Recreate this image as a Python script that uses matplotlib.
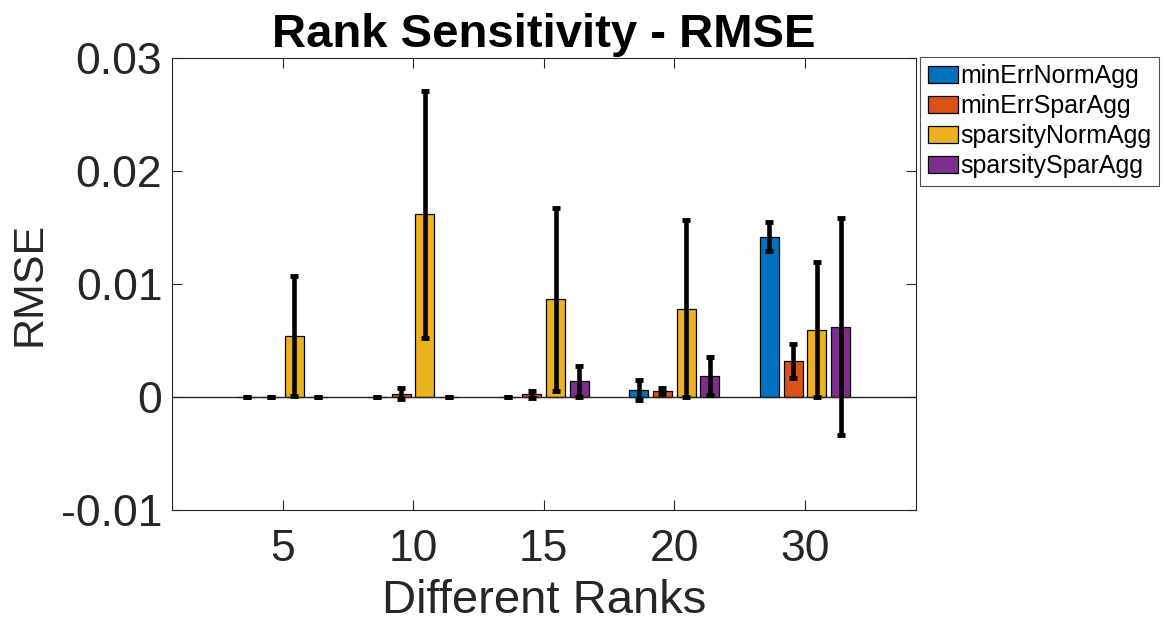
import numpy as np
import matplotlib
matplotlib.use("Agg")
import matplotlib.pyplot as plt

plt.rcParams['font.family'] = ['Liberation Sans', 'DejaVu Sans']

ranks = ["5", "10", "15", "20", "30"]
series = ["minErrNormAgg", "minErrSparAgg", "sparsityNormAgg", "sparsitySparAgg"]
colors = ["#0072BD", "#D95319", "#EDB120", "#7E2F8E"]

# mean RMSE per rank for each method
min_err_norm = [0.0, 0.0, 0.0, 0.00065, 0.01418]
min_err_spar = [0.0, 0.0003, 0.00023, 0.0005, 0.00322]
sparsity_norm = [0.00537, 0.01616, 0.00863, 0.00783, 0.00597]
sparsity_spar = [0.0, 0.0, 0.00138, 0.00186, 0.0062]

# standard deviation of RMSE per rank for each method
min_err_norm_sd = [0.00002, 0.00002, 0.00002, 0.00088, 0.0013]
min_err_spar_sd = [0.00002, 0.0005, 0.0003, 0.00026, 0.0015]
sparsity_norm_sd = [0.0053, 0.0109, 0.0081, 0.0078, 0.006]
sparsity_spar_sd = [0.00002, 0.00002, 0.0014, 0.0017, 0.0096]

yticks = [-0.01, 0, 0.01, 0.02, 0.03]
yticklabels = ["-0.01", "0", "0.01", "0.02", "0.03"]

means = [min_err_norm, min_err_spar, sparsity_norm, sparsity_spar]
sds = [min_err_norm_sd, min_err_spar_sd, sparsity_norm_sd, sparsity_spar_sd]

fig = plt.figure(figsize=(11.64, 6.27), dpi=100)
ax = fig.add_axes([172 / 1164, 1 - 510 / 627, (916 - 172) / 1164, (510 - 58) / 627])

axcol = "#262626"
x = np.arange(1, len(ranks) + 1)
nser = len(series)
group_w = min(0.8, nser / (nser + 1.5))
bar_w = group_w / nser * 0.8
handles = []
for i in range(nser):
    off = -group_w / 2 + (2 * i + 1) * group_w / (2 * nser)
    h = ax.bar(x + off, means[i], width=bar_w, color=colors[i],
               edgecolor="black", linewidth=0.9, label=series[i], zorder=2)
    handles.append(h)
    ax.errorbar(x + off, means[i], yerr=sds[i], fmt="none", ecolor="black",
                elinewidth=3.3, capsize=3.2, capthick=3.5, zorder=4)

ax.axhline(0, color=axcol, linewidth=1.0, zorder=3)

ax.set_xlim(0.154, 5.85)
ax.set_ylim(-0.01, 0.03)
ax.set_xticks(x)
ax.set_xticklabels(ranks)
ax.set_yticks(yticks)
ax.set_yticklabels(yticklabels)

for s in ax.spines.values():
    s.set_color(axcol)
    s.set_linewidth(0.8)
ax.tick_params(direction="in", length=7, width=0.8, color=axcol,
               labelcolor=axcol, labelsize=32, top=True, right=True)
ax.tick_params(axis="x", pad=14)
ax.tick_params(axis="y", pad=7)

ax.set_xlabel("Different Ranks", fontsize=34, color=axcol, labelpad=6)
ax.set_ylabel("RMSE", fontsize=31, color=axcol, labelpad=8)
ax.set_title("Rank Sensitivity - RMSE", fontsize=34, fontweight="bold",
             color="black", pad=8)

leg = fig.legend(handles=handles, labels=series, loc="upper left",
                 bbox_to_anchor=(920 / 1164, 1 - 57 / 627), fontsize=18,
                 frameon=True, fancybox=False, edgecolor=axcol,
                 handlelength=1.2, handleheight=0.65, handletextpad=0.1,
                 borderpad=0.3, labelspacing=0.24, borderaxespad=0)
leg.get_frame().set_linewidth(0.8)
for t in leg.get_texts():
    t.set_color("black")

fig.savefig("out.png", dpi=100)
